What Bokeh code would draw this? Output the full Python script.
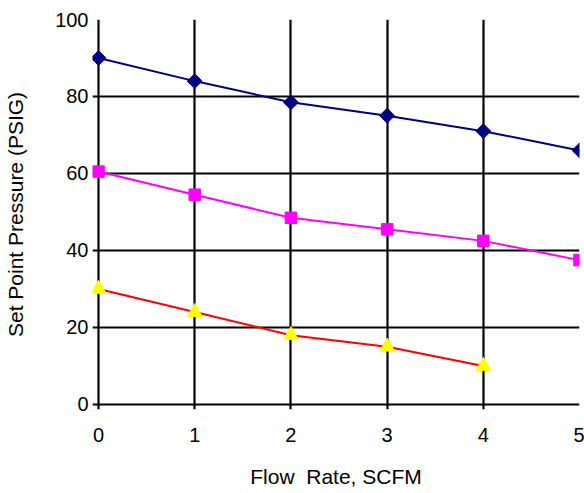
from bokeh.plotting import figure
from bokeh.models import Range1d, FixedTicker
from bokeh.embed import file_html
from bokeh.resources import INLINE
import numpy as np

# ---- data ----
flow_rate = [0, 1, 2, 3, 4, 5]
pressure_high = [90, 84, 78.5, 75, 71, 66]
pressure_mid = [60.5, 54.5, 48.5, 45.5, 42.5, 37.5]
flow_rate_low = [0, 1, 2, 3, 4]
pressure_low = [30, 24, 18, 15, 10]
x_ticks = [0, 1, 2, 3, 4, 5]
y_ticks = [0, 20, 40, 60, 80, 100]

FONT = "Liberation Sans"

p = figure(width=584, height=493, output_backend="svg", toolbar_location=None,
           x_range=Range1d(-0.0625, 5), y_range=Range1d(-1.3, 100),
           min_border_left=92, min_border_right=5, min_border_top=19, min_border_bottom=84)
p.outline_line_color = None
p.background_fill_color = "white"
p.border_fill_color = "white"

for g in (p.xgrid, p.ygrid):
    g.grid_line_color = "black"
    g.grid_line_width = 2.2
p.xgrid.ticker = FixedTicker(ticks=x_ticks)
p.ygrid.ticker = FixedTicker(ticks=y_ticks)

p.xaxis.ticker = FixedTicker(ticks=x_ticks)
p.yaxis.ticker = FixedTicker(ticks=y_ticks)
for ax in (p.xaxis, p.yaxis):
    ax.axis_line_color = None
    ax.major_tick_line_color = None
    ax.minor_tick_line_color = None
    ax.major_tick_out = 0
    ax.major_tick_in = 0
    ax.major_label_text_font = FONT
    ax.major_label_text_font_size = "20px"
    ax.major_label_text_color = "black"
    ax.axis_label_text_font = FONT
    ax.axis_label_text_font_size = "21px"
    ax.axis_label_text_font_style = "normal"
    ax.axis_label_text_color = "black"

p.xaxis.axis_label = "Flow\u00a0 Rate, SCFM"
p.yaxis.axis_label = "Set Point Pressure (PSIG)"
p.xaxis.major_label_standoff = 18
p.xaxis.axis_label_standoff = 20
p.yaxis.major_label_standoff = 4
p.yaxis.axis_label_standoff = 25

# series
p.line(flow_rate, pressure_high, line_color="#000080", line_width=2)
p.scatter(flow_rate, pressure_high, marker="square", angle=np.pi / 4, size=10.5,
          fill_color="#000080", line_color="#000080")

p.line(flow_rate, pressure_mid, line_color="#FF00FF", line_width=2)
p.scatter(flow_rate, pressure_mid, marker="square", size=11.5,
          fill_color="#FF00FF", line_color="#FF00FF")

p.line(flow_rate_low, pressure_low, line_color="#FF0000", line_width=2)
p.scatter(flow_rate_low, pressure_low, marker="triangle", size=15,
          fill_color="#FFFF00", line_color="#FFFF00")

open("out.html", "w").write(file_html(p, INLINE))
